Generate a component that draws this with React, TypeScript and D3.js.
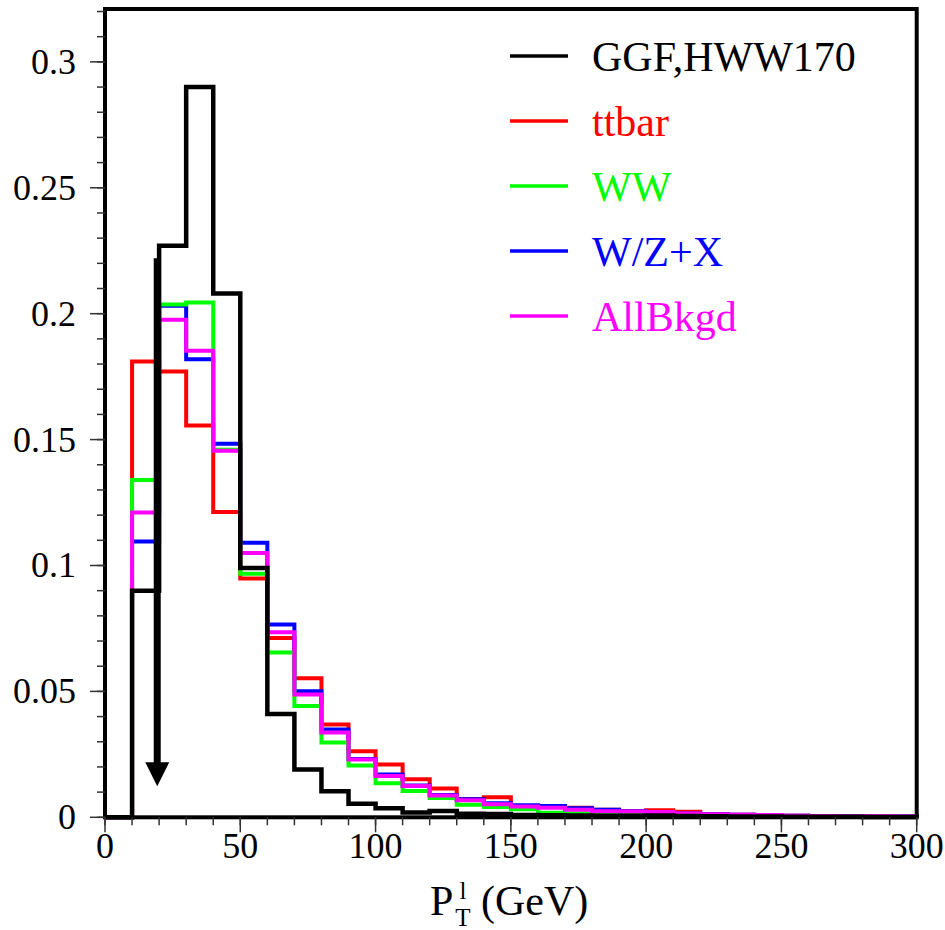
import React from "react";
import * as d3 from "d3";

// ---- data ----
const binEdges: number[] = d3.range(0, 301, 10);
const ggf: number[] = [0, 0.090, 0.227, 0.290, 0.208, 0.099, 0.041, 0.019, 0.0103, 0.0054, 0.0036, 0.0019, 0.0025, 0.0014, 0.0013, 0.0009, 0.0008, 0.0007, 0.0006, 0.0006, 0.0007, 0.0005, 0.0004, 0.0003, 0.0003, 0.0002, 0.0002, 0.0002, 0.0001, 0.0001];
const ttbar: number[] = [0, 0.181, 0.177, 0.1556, 0.1212, 0.0948, 0.0712, 0.0552, 0.0369, 0.0262, 0.021, 0.0151, 0.0114, 0.0073, 0.0080, 0.0045, 0.0042, 0.0038, 0.0030, 0.0024, 0.0028, 0.0022, 0.0013, 0.0010, 0.0009, 0.0006, 0.0005, 0.0004, 0.0004, 0.0003];
const ww: number[] = [0, 0.134, 0.2036, 0.2044, 0.146, 0.0967, 0.0654, 0.0442, 0.0297, 0.0206, 0.0135, 0.0104, 0.0077, 0.0050, 0.0041, 0.0032, 0.0018, 0.0015, 0.0012, 0.0010, 0.0009, 0.0007, 0.0006, 0.0005, 0.0004, 0.0003, 0.0003, 0.0002, 0.0002, 0.0001];
const wzx: number[] = [0, 0.1095, 0.2032, 0.1819, 0.1483, 0.109, 0.0766, 0.0501, 0.0349, 0.0232, 0.017, 0.0126, 0.0089, 0.0072, 0.0056, 0.0048, 0.0045, 0.0036, 0.0030, 0.0024, 0.0021, 0.0015, 0.0012, 0.0010, 0.0008, 0.0006, 0.0005, 0.0004, 0.0003, 0.0003];
const allBkgd: number[] = [0, 0.121, 0.1976, 0.1853, 0.1456, 0.105, 0.0735, 0.0488, 0.0337, 0.023, 0.0164, 0.0124, 0.0087, 0.0068, 0.0052, 0.0043, 0.0038, 0.0030, 0.0024, 0.0023, 0.0021, 0.0015, 0.0012, 0.0010, 0.0009, 0.0006, 0.0005, 0.0004, 0.0004, 0.0003];

const seriesNames: string[] = ["GGF,HWW170", "ttbar", "WW", "W/Z+X", "AllBkgd"];
const seriesColors: string[] = ["#000000", "#ff0000", "#00ff00", "#0000ff", "#ff00ff"];
const seriesValues: number[][] = [ggf, ttbar, ww, wzx, allBkgd];
const drawOrder: number[] = [1, 3, 2, 4, 0];

const xTicks: number[] = [0, 50, 100, 150, 200, 250, 300];
const yTicks: number[] = [0, 0.05, 0.1, 0.15, 0.2, 0.25, 0.3];
const yTickLabels: string[] = ["0", "0.05", "0.1", "0.15", "0.2", "0.25", "0.3"];
const xDomain: [number, number] = [0, 300];
const yDomain: [number, number] = [0, 0.321];

// cut arrow (GeV, value)
const arrowX = 19.3;
const arrowTop = 0.222;
const arrowTip = 0.0123;

const FONT = "'Liberation Serif', 'Times New Roman', serif";

export default function App() {
  const W = 945, H = 930;
  const x = d3.scaleLinear().domain(xDomain).range([105, 916.7]);
  const y = d3.scaleLinear().domain(yDomain).range([817.3, 9]);

  const histPath = (vals: number[]) => {
    const pts: [number, number][] = [[binEdges[0], 0]];
    vals.forEach((v, i) => {
      pts.push([binEdges[i], v]);
      pts.push([binEdges[i + 1], v]);
    });
    pts.push([binEdges[binEdges.length - 1], 0]);
    return d3.line<[number, number]>().x((d) => x(d[0])).y((d) => y(d[1]))(pts) || "";
  };

  const xMinor = d3.range(0, 301, 10);
  const yMinor = d3.range(0, 0.3201, 0.01);

  const ax = x(arrowX);
  const headTop = y(arrowTip) - 24;

  return (
    <svg width={W} height={H} style={{ position: "absolute", left: 0, top: 0, background: "#fff" }} fontFamily={FONT}>
      <rect x={0} y={0} width={W} height={H} fill="#fff" />
      {/* histograms */}
      {drawOrder.map((si) => (
        <path key={si} d={histPath(seriesValues[si])} fill="none" stroke={seriesColors[si]} strokeWidth={si === 0 ? 4.5 : 4} strokeLinejoin="miter" />
      ))}
      {/* arrow */}
      <line x1={ax} x2={ax} y1={y(arrowTop)} y2={headTop + 2} stroke="#000" strokeWidth={7} />
      <path d={`M${ax - 12},${headTop} L${ax + 12},${headTop} L${ax},${y(arrowTip)} Z`} fill="#000" />
      {/* frame */}
      <rect x={x(0)} y={y(yDomain[1])} width={x(300) - x(0)} height={y(0) - y(yDomain[1])} fill="none" stroke="#000" strokeWidth={4} />
      {/* y ticks */}
      {yMinor.map((t, i) => (
        <line key={"ym" + i} x1={x(0) - 8} x2={x(0)} y1={y(t)} y2={y(t)} stroke="#333" strokeWidth={1.5} />
      ))}
      {yTicks.map((t, i) => (
        <g key={"y" + i}>
          <line x1={x(0) - 15} x2={x(0)} y1={y(t)} y2={y(t)} stroke="#333" strokeWidth={1.5} />
          <text x={76} y={y(t) + 12} textAnchor="end" fontSize={36} fill="#000">{yTickLabels[i]}</text>
        </g>
      ))}
      {/* x ticks */}
      {xMinor.map((t, i) => (
        <line key={"xm" + i} x1={x(t)} x2={x(t)} y1={y(0)} y2={y(0) + 8} stroke="#333" strokeWidth={1.5} />
      ))}
      {xTicks.map((t, i) => (
        <g key={"x" + i}>
          <line x1={x(t)} x2={x(t)} y1={y(0)} y2={y(0) + 15} stroke="#333" strokeWidth={1.5} />
          <text x={x(t)} y={858} textAnchor="middle" fontSize={36} fill="#000">{String(t)}</text>
        </g>
      ))}
      {/* axis title */}
      <text x={430} y={915} fontSize={42} fill="#000">P</text>
      <text x={463} y={899} fontSize={25} textAnchor="middle" fill="#000">l</text>
      <text x={463} y={926} fontSize={25} textAnchor="middle" fill="#000">T</text>
      <text x={481} y={915} fontSize={42} fill="#000">(GeV)</text>
      {/* legend */}
      {seriesNames.map((n, i) => (
        <g key={"lg" + i}>
          <line x1={510} x2={568} y1={56 + i * 65} y2={56 + i * 65} stroke={seriesColors[i]} strokeWidth={3.5} />
          <text x={592} y={71 + i * 65} fontSize={42} fill={seriesColors[i]}>{n}</text>
        </g>
      ))}
    </svg>
  );
}
